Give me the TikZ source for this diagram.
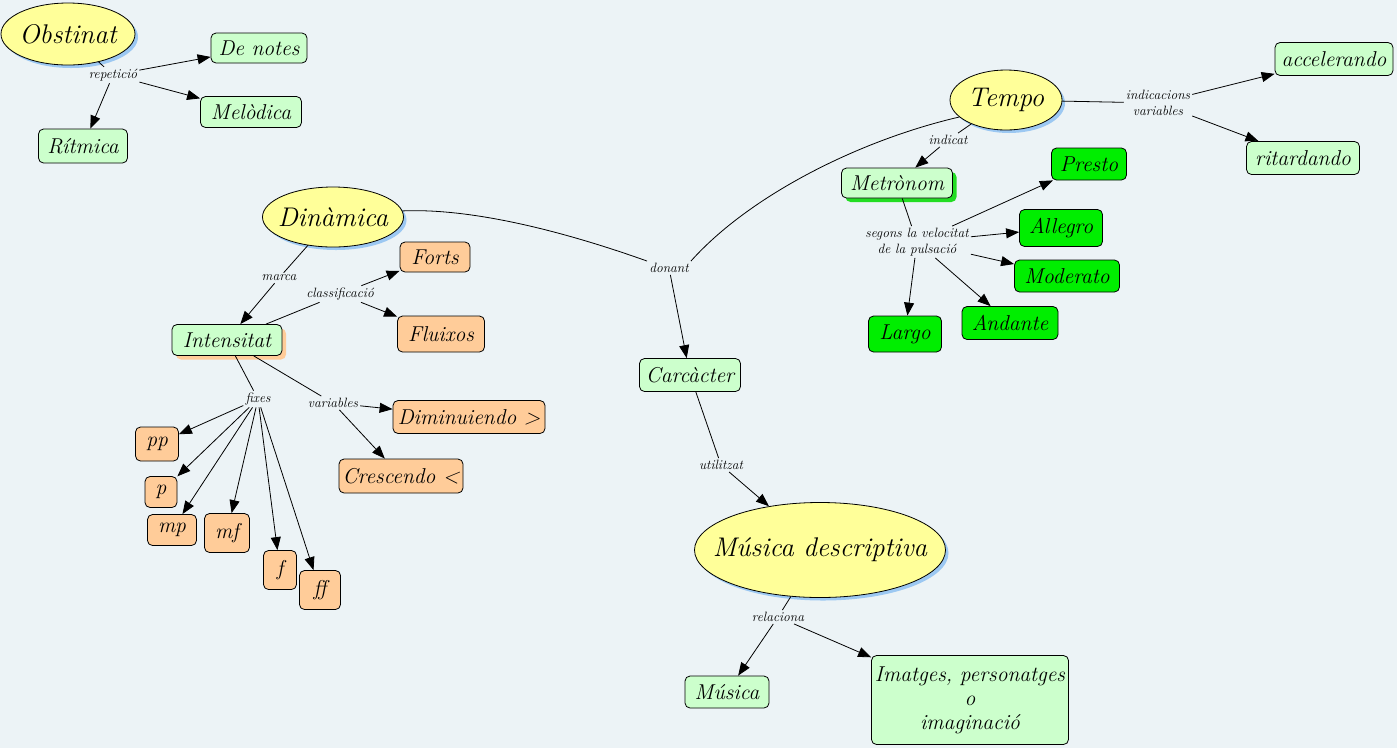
\documentclass[tikz,border=0pt]{standalone}
\usepackage{fontspec}
\usetikzlibrary{arrows.meta,shapes.geometric,shadows}
\definecolor{bgc}{HTML}{ECF3F6}
\definecolor{yel}{HTML}{FFFF99}
\definecolor{shblue}{HTML}{9CC8F2}
\definecolor{lgreen}{HTML}{CCFFCC}
\definecolor{lorange}{HTML}{FFCC99}
\definecolor{bgreen}{HTML}{00EE00}
\definecolor{shgreen}{HTML}{22DD22}
\newcommand{\ellfont}{\fontsize{27}{31}\selectfont\itshape}
\newcommand{\boxfont}{\fontsize{21.5}{24}\selectfont\itshape}
\newcommand{\labfont}{\fontsize{13.5}{15.5}\selectfont\itshape}
\begin{document}
\begin{tikzpicture}[x=1pt,y=-1pt,
  ellnode/.style={ellipse, draw, line width=0.8pt, fill=yel, inner sep=0pt, inner xsep=-30pt,
    font=\ellfont, drop shadow={fill=shblue, opacity=1, shadow xshift=3pt, shadow yshift=-3pt}},
  boxnode/.style={rectangle, rounded corners=5pt, draw, line width=0.8pt, fill=lgreen,
    inner sep=2pt, font=\boxfont, align=center},
  obox/.style={boxnode, fill=lorange},
  gbox/.style={boxnode, fill=bgreen},
  sz/.style 2 args={minimum width=#1, minimum height=#2},
  lab/.style={font=\labfont, inner sep=2pt, align=center},
  conn/.style={line width=0.8pt},
  arr/.style={conn, -{Triangle[length=13pt,width=10pt]}}
]
\useasboundingbox (0,0) rectangle (1397,748);
\fill[bgc] (0,0) rectangle (1397,748);

% Obstinat
\node[ellnode, sz={134}{62}] (obst) at (68,34) {Obstinat};
\node[boxnode, sz={96}{30}] (denotes) at (259,48) {De notes};
\node[boxnode, sz={101}{31}] (melodica) at (251,112) {Melòdica};
\node[boxnode, sz={89}{34}] (ritmica) at (83,146) {Rítmica};
\node[lab] (repet) at (113,75) {repetició};
\draw[conn] (obst) -- (repet);
\draw[arr] (repet) -- (denotes);
\draw[arr] (repet) -- (melodica);
\draw[arr] (repet) -- (ritmica);

% Tempo
\node[ellnode, sz={112}{60}] (tempo) at (1006,100) {Tempo};
\node[boxnode, sz={118}{33}] (accel) at (1334,59) {accelerando};
\node[boxnode, sz={113}{33}] (ritard) at (1303,158) {ritardando};
\node[lab] (indvar) at (1158,103) {indicacions\\variables};
\draw[conn] (tempo) -- (indvar);
\draw[arr] (indvar) -- (accel);
\draw[arr] (indvar) -- (ritard);
\node[lab] (indicat) at (948,140) {indicat};
\node[boxnode, sz={111}{30}, drop shadow={fill=shgreen, opacity=1, shadow xshift=4pt, shadow yshift=-4pt}] (metro) at (897,183) {Metrònom};
\draw[conn] (tempo) -- (indicat);
\draw[arr] (indicat) -- (metro);
\node[lab] (segons) at (917,242) {segons la velocitat\\de la pulsació};
\node[gbox, sz={75}{32}] (presto) at (1089,164) {Presto};
\node[gbox, sz={83}{37}] (allegro) at (1061,228) {Allegro};
\node[gbox, sz={105}{32}] (moderato) at (1067,276) {Moderato};
\node[gbox, sz={96}{33}] (andante) at (1010,323) {Andante};
\node[gbox, sz={73}{36}] (largo) at (905,334) {Largo};
\draw[conn] (metro) -- (segons);
\draw[arr] (segons) -- (presto);
\draw[arr] (segons) -- (allegro);
\draw[arr] (segons) -- (moderato);
\draw[arr] (segons) -- (andante);
\draw[arr] (segons) -- (largo);

% Dinamica
\node[ellnode, sz={141}{60}] (din) at (333,217) {Dinàmica};
\node[obox, sz={70}{30}] (forts) at (435,257) {Forts};
\node[obox, sz={87}{36}] (fluixos) at (441,334) {Fluixos};
\node[boxnode, sz={110}{31}, drop shadow={fill=lorange, opacity=1, shadow xshift=4pt, shadow yshift=-4pt}] (intens) at (227,340) {Intensitat};
\node[lab] (marca) at (279,278) {marca};
\node[lab] (classif) at (340,294) {classificació};
\draw[conn] (din) -- (marca);
\draw[arr] (marca) -- (intens);
\draw[conn] (intens) -- (classif);
\draw[arr] (classif) -- (forts);
\draw[arr] (classif) -- (fluixos);
\node[lab] (fixes) at (258,399) {fixes};
\node[lab] (variables) at (333,403) {variables};
\node[obox, sz={152}{33}] (dimin) at (469,417) {Diminuiendo >};
\node[obox, sz={124}{34}] (cresc) at (401,476) {Crescendo <};
\draw[conn] (intens) -- (fixes);
\draw[conn] (intens) -- (variables);
\draw[arr] (variables) -- (dimin);
\draw[arr] (variables) -- (cresc);
\node[obox, sz={43}{34}] (pp) at (157,444) {pp};
\node[obox, sz={32}{31}] (pn) at (161,492) {p};
\node[obox, sz={49}{31}] (mp) at (172,530) {mp};
\node[obox, sz={45}{39}] (mf) at (227,533) {mf};
\node[obox, sz={33}{39}] (fn) at (280,570) {f};
\node[obox, sz={41}{39}] (ff) at (320,590) {ff};
\draw[arr] (fixes) -- (pp);
\draw[arr] (fixes) -- (pn);
\draw[arr] (fixes) -- (mp);
\draw[arr] (fixes) -- (mf);
\draw[arr] (fixes) -- (fn);
\draw[arr] (fixes) -- (ff);

% Caracter
\node[lab] (donant) at (669,268) {donant};
\draw[conn] (din.5) .. controls (470,208) and (560,230) .. (donant.north west);
\draw[conn] (tempo.200) .. controls (860,140) and (750,195) .. (donant.north east);
\node[boxnode, sz={101}{33}] (carc) at (690,375) {Carcàcter};
\draw[arr] (donant) -- (carc);
\node[lab] (utilitzat) at (721,465) {utilitzat};
\node[ellnode, sz={251}{95}] (md) at (820,550) {Música descriptiva};
\draw[conn] (carc) -- (utilitzat);
\draw[arr] (utilitzat) -- (md);
\node[lab] (relaciona) at (778,617) {relaciona};
\node[boxnode, sz={84}{32}] (musica) at (727,692) {Música};
\node[boxnode, sz={197}{89}] (imatges) at (970,700) {Imatges, personatges\\o\\imaginació};
\draw[conn] (md) -- (relaciona);
\draw[arr] (relaciona) -- (musica);
\draw[arr] (relaciona) -- (imatges);
\end{tikzpicture}
\end{document}
